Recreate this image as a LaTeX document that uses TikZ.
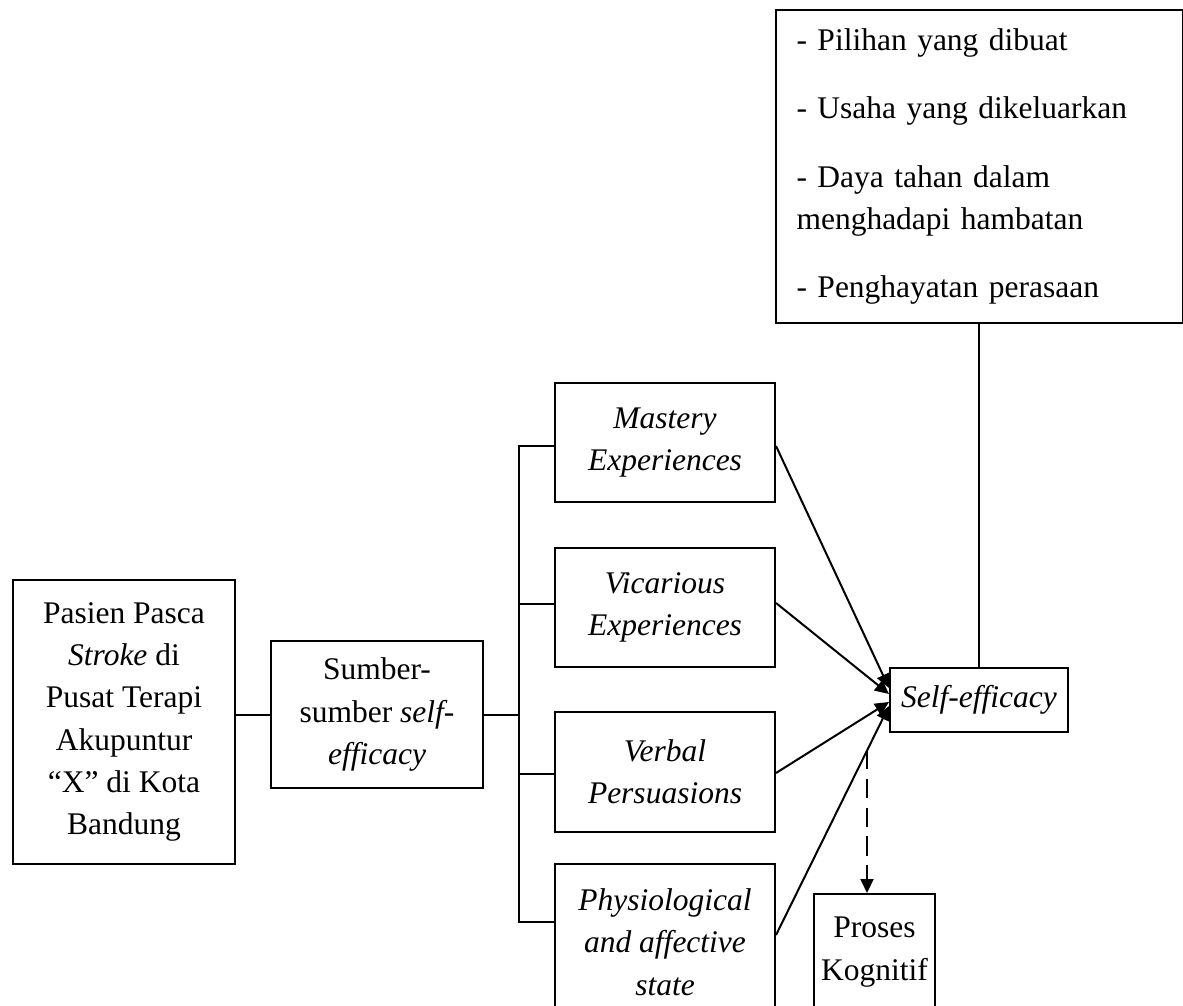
\documentclass[tikz,border=0pt]{standalone}
\usepackage{fontspec}
\setmainfont{Liberation Serif}
\usetikzlibrary{arrows.meta}

\begin{document}
\begin{tikzpicture}[x=0.4pt, y=-0.4pt,
box/.style={draw, line width=0.8pt, inner sep=0pt, align=center, font=\fontsize{12.6pt}{16.9pt}\selectfont},
src/.style={box, minimum width=88pt, minimum height=47.6pt},
link/.style={line width=0.8pt},
>={Triangle[length=5.6pt,width=5.2pt]}
]
\useasboundingbox (0,0) rectangle (1183,1005);
\clip (0,0) rectangle (1183,1005);

\node[box, minimum width=88.8pt, minimum height=113.6pt] (pasien) at (124,722)
  {Pasien Pasca\\\textit{Stroke} di\\Pusat Terapi\\Akupuntur\\``X'' di Kota\\Bandung};
\node[box, minimum width=84.8pt, minimum height=58.8pt] (sumber) at (377,714.5)
  {Sumber-\\sumber \textit{self-}\\\textit{efficacy}};
\node[src] (mastery) at (665,442.5) {\textit{Mastery}\\\textit{Experiences}};
\node[src] (vicarious) at (665,607.5) {\textit{Vicarious}\\\textit{Experiences}};
\node[src, minimum height=48pt] (verbal) at (665,772) {\textit{Verbal}\\\textit{Persuasions}};
\node[src, minimum height=62.4pt] (physio) at (665,942) {\textit{Physiological}\\\textit{and affective}\\\textit{state}};
\node[box, minimum width=71.2pt, minimum height=25.6pt] (selfeff) at (979,700) {\textit{Self-efficacy}};
\node[box, minimum width=48.4pt, minimum height=46.4pt] (proses) at (874.5,952) {Proses\\Kognitif};
\node[box, align=left, text width=146pt, inner xsep=8.4pt, minimum height=125.2pt] (effects) at (979,166.5)
  {- Pilihan yang dibuat\\[10.4pt]
   - Usaha yang dikeluarkan\\[10.4pt]
   - Daya tahan dalam\\menghadapi hambatan\\[10.4pt]
   - Penghayatan perasaan};

\coordinate (br) at (519,714.5);
\coordinate (dstart) at (867,750);

% left part
\draw[link] (pasien.east |- sumber.west) -- (sumber.west);
\draw[link] (sumber.east) -- (br);
\draw[link] ([yshift=-1.4pt]mastery.west) -| (br);
\draw[link] ([yshift=1.4pt]vicarious.west) -| (br);
\draw[link] ([yshift=-0.8pt]verbal.west) -| (br);
\draw[link] ([yshift=8pt]physio.west) -| (br);

% sources to self-efficacy
\draw[link,->] ([yshift=-1.4pt]mastery.east) -- ([yshift=4.8pt]selfeff.west);
\draw[link,->] ([yshift=1.8pt]vicarious.east) -- ([yshift=2.4pt]selfeff.west);
\draw[link,->] ([yshift=-0.4pt]verbal.east) -- ([yshift=-0.8pt]selfeff.west);
\draw[link,->] ([yshift=2.8pt]physio.east) -- ([yshift=-2.4pt]selfeff.west);

\draw[link] (effects) -- (selfeff);
\draw[link,->,dash pattern=on 7.7pt off 3.8pt] (dstart) -- (dstart |- proses.north);
\end{tikzpicture}
\end{document}
